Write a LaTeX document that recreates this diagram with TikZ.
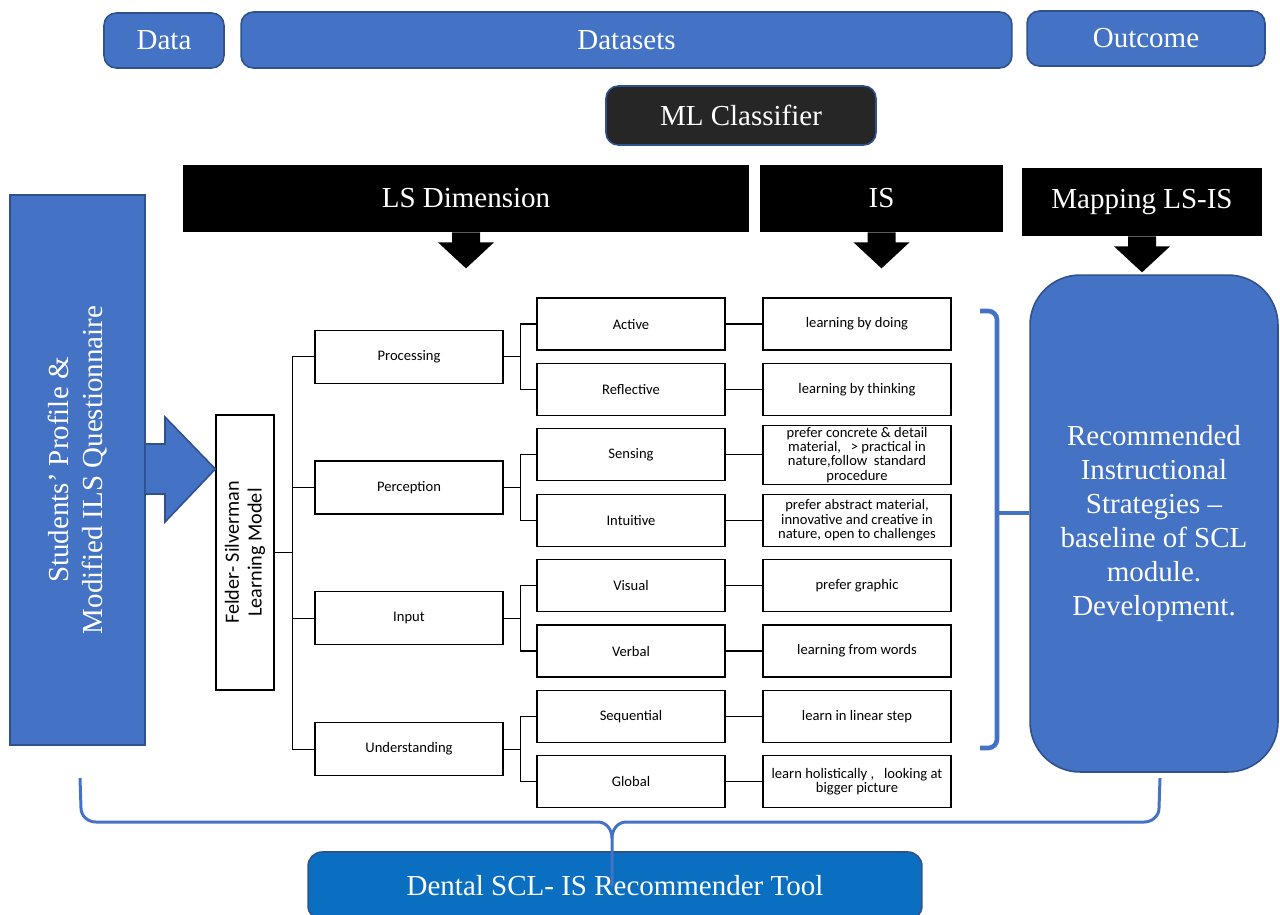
\documentclass[tikz,border=0pt]{standalone}
\usepackage{fontspec}
\setmainfont{Liberation Serif}
\newfontfamily\calfont{Carlito}
\definecolor{ppblue}{HTML}{4472C4}
\definecolor{bdblue}{HTML}{2F528F}
\definecolor{toolblue}{HTML}{0B6FC1}
\definecolor{mlgray}{HTML}{262626}
\newcommand{\blkarrow}[1]{\fill (#1) ++(-14,0) -- ++(0,10) -- ++(-14,0) -- ++(28,26) -- ++(28,-26) -- ++(-14,0) -- ++(0,-10) -- cycle;}
\tikzset{
  hdbox/.style={draw=bdblue, line width=0.9pt, fill=ppblue, rounded corners=7pt, text=white, font=\fontsize{16.5}{19}\selectfont},
  blkbox/.style={fill=black, text=white, inner sep=0pt, font=\fontsize{16.5}{19}\selectfont},
  lsbox/.style={draw, line width=0.7pt, fill=white, minimum width=3.76cm, inner sep=1pt, align=center, font=\calfont\fontsize{8.3}{8.2}\selectfont},
  tree/.style={line width=0.7pt},
  brk/.style={draw=ppblue, line width=2.6pt, rounded corners=5pt},
  brc/.style={draw=ppblue, line width=1.7pt},
}
\begin{document}
\begin{tikzpicture}[x=0.02cm,y=-0.02cm]
\useasboundingbox (0,0) rectangle (1280,914);
\node[hdbox, minimum width=2.4cm, minimum height=1.1cm] (data) at (164,40.5) {Data};
\node[hdbox, minimum width=15.42cm, minimum height=1.12cm] (datasets) at (626.5,40) {Datasets};
\node[hdbox, minimum width=4.76cm, minimum height=1.1cm] (outcome) at (1146,38.5) {Outcome};
\node[hdbox, fill=mlgray, minimum width=5.4cm, minimum height=1.18cm] (mlc) at (741,115.5) {ML Classifier};
\node[blkbox, minimum width=11.32cm, minimum height=1.34cm] (lsdim) at (466,198.5) {LS Dimension};
\node[blkbox, minimum width=4.86cm, minimum height=1.34cm] (isdim) at (881.5,198.5) {IS};
\node[blkbox, minimum width=4.8cm, minimum height=1.36cm] (maplsis) at (1142,202) {Mapping LS-IS};
\blkarrow{lsdim.south}
\blkarrow{isdim.south}
\blkarrow{maplsis.south}
\node[draw=bdblue, fill=ppblue, line width=0.9pt, rotate=90, minimum width=11cm, minimum height=2.7cm, align=center, text=white, font=\fontsize{16.5}{19.5}\selectfont] (stud) at (77.5,470) {Students’ Profile \&\\Modified ILS Questionnaire};
\node[lsbox, rotate=90, minimum width=5.5cm, minimum height=1.16cm, font=\calfont\fontsize{11.5}{13}\selectfont] (felder) at (245,552.5) {Felder- Silverman\\Learning Model};
\draw[draw=bdblue, fill=ppblue, line width=0.9pt] (stud.south |- 0,444) -- (165,444) -- (165,417) -- (felder.north |- 0,469) -- (165,522) -- (165,494) -- (stud.south |- 0,494);
\node[lsbox, minimum height=1.06cm] (proc) at (409,356.7) {Processing};
\node[lsbox, minimum height=1.06cm] (perc) at (409,487.5) {Perception};
\node[lsbox, minimum height=1.06cm] (inpt) at (409,618.3) {Input};
\node[lsbox, minimum height=1.06cm] (undr) at (409,749.1) {Understanding};
\node[lsbox, minimum height=1.04cm] (actv) at (631,324) {Active};
\node[lsbox, minimum height=1.04cm] (rflc) at (631,389.4) {Reflective};
\node[lsbox, minimum height=1.04cm] (sens) at (631,454.8) {Sensing};
\node[lsbox, minimum height=1.04cm] (intu) at (631,520.2) {Intuitive};
\node[lsbox, minimum height=1.04cm] (visl) at (631,585.6) {Visual};
\node[lsbox, minimum height=1.04cm] (verb) at (631,651) {Verbal};
\node[lsbox, minimum height=1.04cm] (sequ) at (631,716.4) {Sequential};
\node[lsbox, minimum height=1.04cm] (glob) at (631,781.8) {Global};
\node[lsbox, minimum height=1.04cm] (doing) at (857,324) {learning by doing};
\node[lsbox, minimum height=1.04cm] (think) at (857,389.4) {learning by thinking};
\node[lsbox, minimum height=1.04cm] (concr) at (857,454.8) {prefer concrete \& detail\\material,\ \ \ > practical in\\nature,follow\ \ standard\\procedure};
\node[lsbox, minimum height=1.04cm] (abstr) at (857,520.2) {prefer abstract material,\\innovative and creative in\\nature, open to challenges};
\node[lsbox, minimum height=1.04cm] (graph) at (857,585.6) {prefer graphic};
\node[lsbox, minimum height=1.04cm] (words) at (857,651) {learning from words};
\node[lsbox, minimum height=1.04cm] (lines) at (857,716.4) {learn in linear step};
\node[lsbox, minimum height=1.04cm] (holis) at (857,781.8) {learn holistically ,\ \ \ looking at\\bigger picture};
\draw[tree] (felder.south) -- ++(18,0) |- (proc.west);
\draw[tree] (felder.south) -- ++(18,0) |- (perc.west);
\draw[tree] (felder.south) -- ++(18,0) |- (inpt.west);
\draw[tree] (felder.south) -- ++(18,0) |- (undr.west);
\draw[tree] (proc.east) -- ++(17,0) |- (actv.west);
\draw[tree] (proc.east) -- ++(17,0) |- (rflc.west);
\draw[tree] (perc.east) -- ++(17,0) |- (sens.west);
\draw[tree] (perc.east) -- ++(17,0) |- (intu.west);
\draw[tree] (inpt.east) -- ++(17,0) |- (visl.west);
\draw[tree] (inpt.east) -- ++(17,0) |- (verb.west);
\draw[tree] (undr.east) -- ++(17,0) |- (sequ.west);
\draw[tree] (undr.east) -- ++(17,0) |- (glob.west);
\draw[tree] (actv.east) -- (doing.west);
\draw[tree] (rflc.east) -- (think.west);
\draw[tree] (sens.east) -- (concr.west);
\draw[tree] (intu.east) -- (abstr.west);
\draw[tree] (visl.east) -- (graph.west);
\draw[tree] (verb.east) -- (words.west);
\draw[tree] (sequ.east) -- (lines.west);
\draw[tree] (glob.east) -- (holis.west);
\node[draw=bdblue, fill=ppblue, line width=0.9pt, rounded corners=1cm, minimum width=4.96cm, minimum height=9.94cm, align=center, text=white, font=\fontsize{16.5}{19.3}\selectfont] (rec) at (1154,523.5) {Recommended\\Instructional\\Strategies –\\baseline of SCL\\module.\\Development.};
\draw[brk] (980,311) -- (997,311) -- (997,748) -- (980,748);
\draw[brk] (997,513) -- (rec.west |- 0,513);
\node[draw=bdblue, fill=toolblue, line width=0.9pt, rounded corners=8pt, minimum width=12.28cm, minimum height=1.36cm, text=white, font=\fontsize{16.5}{19}\selectfont] (tool) at (615,886) {Dental SCL- IS Recommender Tool};
\coordinate (bracetip) at (612,886);
\draw[brc] (80,778) -- (81,808) to[out=-90,in=180] (96,822) -- (598,822) to[out=0,in=90] (bracetip |- 0,838) -- (bracetip);
\draw[brc] (1160,778) -- (1159,808) to[out=-90,in=0] (1144,822) -- (626,822) to[out=180,in=90] (bracetip |- 0,838);
\end{tikzpicture}
\end{document}
